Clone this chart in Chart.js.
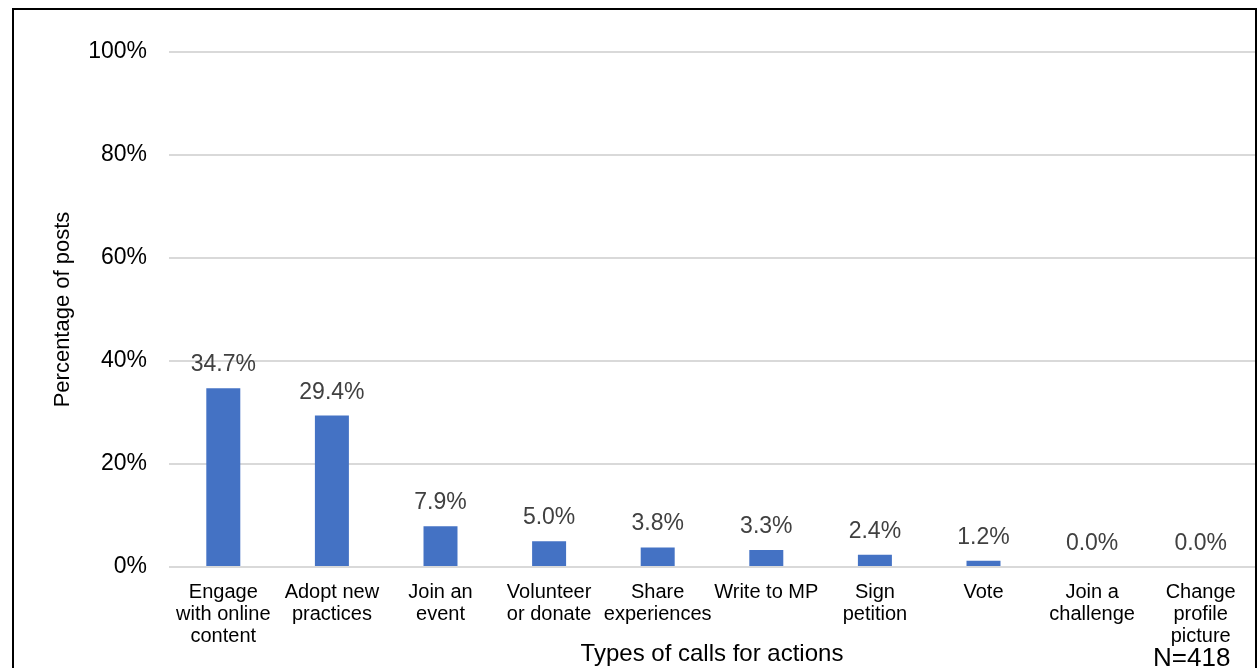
<!DOCTYPE html>
<html>
<head>
<meta charset="utf-8">
<script src="https://cdn.jsdelivr.net/npm/chart.js@4.4.0/dist/chart.umd.min.js"></script>
<style>
    html, body { margin: 0; padding: 0; background: #fff; overflow: hidden; }
    canvas { position: absolute; left: 0; top: 0; }
    #frame { position: absolute; left: 12px; top: 8px; width: 1241px; height: 720px; border: 2px solid #000; pointer-events: none; }
</style>
</head>
<body>
<canvas id="chart" width="1259" height="668"></canvas>
<div id="frame"></div>
<script>
// categories (multi-line tick labels)
const actionTypes = [
    ["Engage", "with online", "content"],
    ["Adopt new", "practices"],
    ["Join an", "event"],
    ["Volunteer", "or donate"],
    ["Share", "experiences"],
    ["Write to MP"],
    ["Sign", "petition"],
    ["Vote"],
    ["Join a", "challenge"],
    ["Change", "profile", "picture"],
];

// percentage of posts
const shares = [34.7, 29.4, 7.9, 5.0, 3.8, 3.3, 2.4, 1.2, 0.0, 0.0];

// y axis ticks
const yTicks = [0, 20, 40, 60, 80, 100];

const sampleNote = "N=418";

Chart.defaults.font.family = '"Liberation Sans", Arial, sans-serif';

// value labels above the bars
const valueLabels = {
    id: "valueLabels",
    afterDatasetsDraw(chart) {
        const ctx = chart.ctx;
        const meta = chart.getDatasetMeta(0);
        ctx.save();
        ctx.font = '23px "Liberation Sans", Arial, sans-serif';
        ctx.fillStyle = "#404040";
        ctx.textAlign = "center";
        ctx.textBaseline = "alphabetic";
        meta.data.forEach((bar, i) => {
            ctx.fillText(shares[i].toFixed(1) + "%", bar.x, bar.y - 17);
        });
        ctx.restore();
    },
};

// sample size note in the bottom right corner
const noteLabel = {
    id: "noteLabel",
    afterDraw(chart) {
        const ctx = chart.ctx;
        ctx.save();
        ctx.font = '26px "Liberation Sans", Arial, sans-serif';
        ctx.fillStyle = "#000";
        ctx.textAlign = "left";
        ctx.textBaseline = "alphabetic";
        ctx.fillText(sampleNote, 1153, 666);
        ctx.restore();
    },
};

const myChart = new Chart(document.getElementById("chart"), {
    type: "bar",
    data: {
        labels: actionTypes,
        datasets: [{
            data: shares,
            backgroundColor: "#4472c4",
            borderWidth: 0,
            barPercentage: 0.313,
            categoryPercentage: 1,
        }],
    },
    options: {
        responsive: false,
        animation: false,
        devicePixelRatio: 1,
        layout: {
            padding: { left: 0, right: 4, top: 52, bottom: 0 },
        },
        plugins: {
            legend: { display: false },
            tooltip: { enabled: false },
        },
        scales: {
            x: {
                offset: true,
                grid: { display: false },
                border: { display: false },
                ticks: {
                    color: "#000",
                    font: { size: 20, lineHeight: 1.1 },
                    padding: 6,
                    autoSkip: false,
                    maxRotation: 0,
                    minRotation: 0,
                },
                title: {
                    display: true,
                    text: "Types of calls for actions",
                    color: "#000",
                    font: { size: 24, lineHeight: 1.1 },
                    padding: { top: 0, bottom: 0 },
                },
                afterFit: (scale) => { scale.height = 101; },
            },
            y: {
                min: 0,
                max: 100,
                afterBuildTicks: (scale) => {
                    scale.ticks = yTicks.map((v) => ({ value: v }));
                },
                grid: {
                    color: "#d9d9d9",
                    lineWidth: 2,
                    drawTicks: false,
                },
                border: { display: false },
                ticks: {
                    color: "#000",
                    font: { size: 23 },
                    padding: 22,
                    callback: (value) => value + "%",
                },
                title: {
                    display: true,
                    text: "Percentage of posts",
                    color: "#000",
                    font: { size: 22, lineHeight: 1.2 },
                    padding: { top: 50, bottom: 0 },
                },
                afterFit: (scale) => { scale.width = 169; },
            },
        },
    },
    plugins: [valueLabels, noteLabel],
});
</script>
</body>
</html>
